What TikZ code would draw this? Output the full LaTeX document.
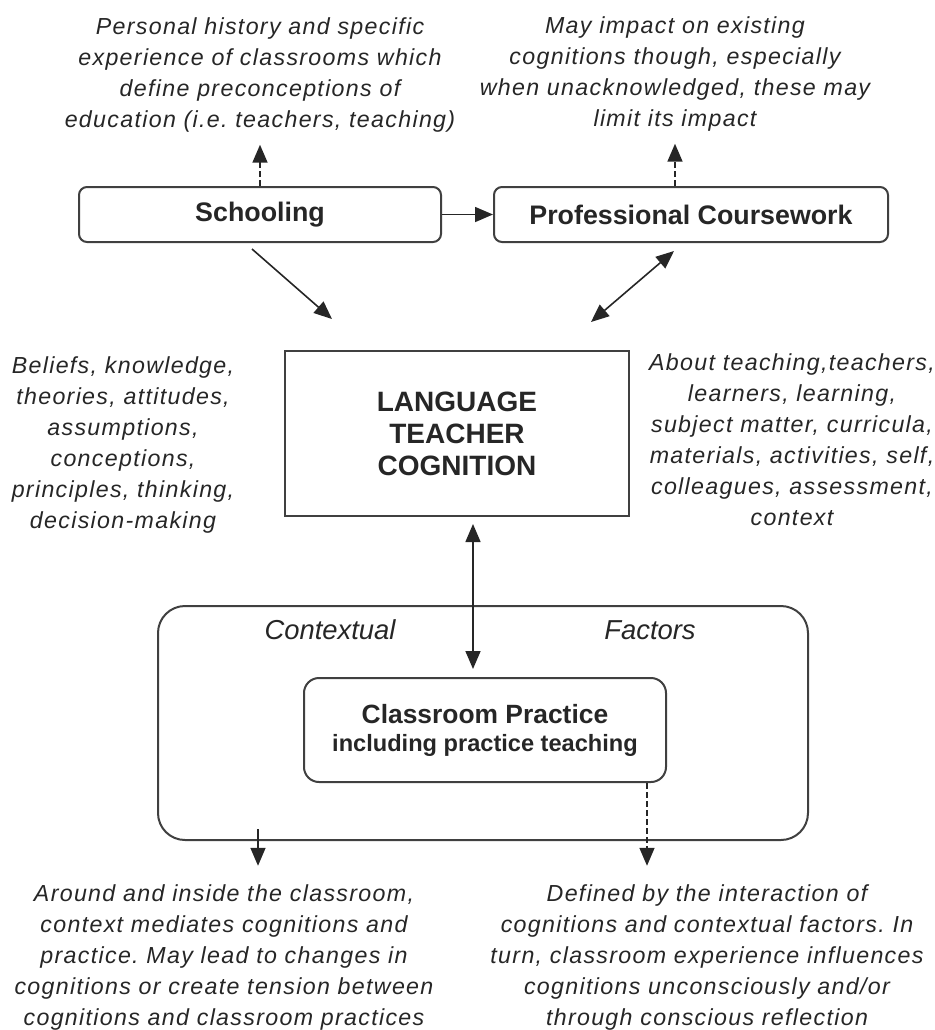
\documentclass[tikz,border=0pt]{standalone}
\usepackage{fontspec}
\setmainfont{Liberation Sans}
\newfontfamily\notefont[LetterSpace=5.7]{Liberation Sans}
\usetikzlibrary{arrows.meta, calc}
\frenchspacing

\begin{document}
\begin{tikzpicture}[x=0.5pt, y=-0.5pt, >={Triangle[length=9pt,width=7.5pt]}, text=black!85,
    box/.style={draw=black!75, line width=1pt, rounded corners=4pt, inner sep=0,
        font=\fontsize{13.4}{16}\selectfont\bfseries},
    note/.style={align=center, inner sep=0, font=\notefont\itshape\fontsize{11.6}{15.5}\selectfont},
    lbl/.style={inner sep=0, font=\itshape\fontsize{13.7}{16}\selectfont},
    link/.style={->, line width=0.8pt, draw=black!85},
    dlink/.style={<->, line width=0.8pt, draw=black!85},
    hint/.style={->, line width=0.8pt, draw=black!85, dash pattern=on 3pt off 1.5pt}]

\useasboundingbox (0,0) rectangle (935,1030);

\node[box, minimum width=181pt, minimum height=27.5pt]   (school)   at (260,214.5) {Schooling};
\node[box, minimum width=197pt, minimum height=27.5pt]   (prof)     at (691,214.5) {Professional Coursework};
\node[box, rounded corners=0pt, minimum width=172pt, minimum height=82.5pt, align=center,
    font=\fontsize{14}{16}\selectfont\bfseries]           (ltc)      at (457,433.5) {LANGUAGE\\TEACHER\\COGNITION};
\node[box, rounded corners=13.5pt, minimum width=325pt, minimum height=117pt] (context) at (483,723) {};
\node[box, rounded corners=7.5pt, minimum width=181pt, minimum height=52pt, align=center,
    font=\fontsize{13.2}{14}\selectfont\bfseries]         (practice) at (485,730)
    {Classroom Practice\\{\fontsize{11.8}{14}\selectfont including practice teaching}};

\node[lbl]   (ctxword)  at (330,630) {Contextual};
\node[lbl]   (facword)  at (650,630) {Factors};

\node[note]  (hist)     at (260,75)   {Personal history and specific\\experience of classrooms which\\define preconceptions of\\education (i.e. teachers, teaching)};
\node[note]  (impact)   at (675,74)   {May impact on existing\\cognitions though, especially\\when unacknowledged, these may\\limit its impact};
\node[note]  (beliefs)  at (123,445)  {Beliefs, knowledge,\\theories, attitudes,\\assumptions,\\conceptions,\\principles, thinking,\\decision-making};
\node[note]  (about)    at (792,440)  {About teaching,teachers,\\learners, learning,\\subject matter, curricula,\\materials, activities, self,\\colleagues, assessment,\\context};
\node[note]  (around)   at (224,957)  {Around and inside the classroom,\\context mediates cognitions and\\practice. May lead to changes in\\cognitions or create tension between\\cognitions and classroom practices};
\node[note]  (defined)  at (707,957)  {Defined by the interaction of\\cognitions and contextual factors. In\\turn, classroom experience influences\\cognitions unconsciously and/or\\through conscious reflection};

\coordinate (ctxout) at ($(context.south west)+(101,-12)$);
\coordinate (cpout)  at ($(practice.south east)+(-20,0)$);

\path
(school) edge[link] (prof)
(school.north) edge[hint, shorten >=6pt] (hist.south)
(prof.north -| impact) edge[hint, shorten >=6pt] (impact.south)
($(school.south)+(-8,6)$) edge[link] ($(ltc.north west)+(48,-31)$)
($(prof.south)+(-17,8)$) edge[dlink] ($(ltc.north east)+(-39,-28)$)
($(ltc.south)+(16,0)$) edge[dlink, shorten <=3.5pt, shorten >=4pt] ($(practice.north)+(-12,0)$)
(ctxout) edge[link, shorten >=9pt] (ctxout |- around.north)
(cpout) edge[hint, shorten >=9pt] (cpout |- defined.north)
;
\end{tikzpicture}
\end{document}
